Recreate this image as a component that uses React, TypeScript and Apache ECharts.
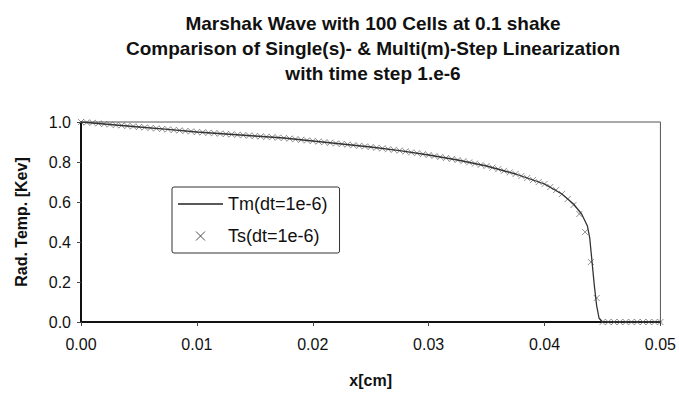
import React, { useEffect, useRef } from "react";
import * as echarts from "echarts";

const TITLE_LINES = [
  "Marshak Wave with 100 Cells at 0.1 shake",
  "Comparison of Single(s)- & Multi(m)-Step Linearization",
  "with time step 1.e-6",
];
const X_NAME = "x[cm]";
const Y_NAME = "Rad. Temp. [Kev]";
const TM_NAME = "Tm(dt=1e-6)";
const TS_NAME = "Ts(dt=1e-6)";

// Multi-step line: x [cm], T [keV]
const tmX = [0, 0.001, 0.002, 0.003, 0.005, 0.0075, 0.01, 0.0125, 0.015, 0.0175, 0.02, 0.0225, 0.025, 0.0275, 0.03, 0.0325, 0.035, 0.0375, 0.04, 0.0415, 0.0425, 0.0432, 0.0437, 0.0439, 0.0441, 0.0443, 0.0445, 0.0447, 0.045, 0.05];
const tmT = [1.0, 0.995, 0.99, 0.985, 0.975, 0.963, 0.95, 0.94, 0.93, 0.92, 0.905, 0.89, 0.875, 0.857, 0.835, 0.81, 0.78, 0.74, 0.69, 0.64, 0.59, 0.54, 0.48, 0.42, 0.3, 0.18, 0.08, 0.02, 0.0, 0.0];

// Single-step cell values, one per cell edge (cell width 0.0005 cm)
const CELL_DX = 0.0005;
const tsT = [
  1.0, 0.998, 0.996, 0.993, 0.99, 0.988, 0.985, 0.983, 0.98, 0.978,
  0.975, 0.973, 0.97, 0.968, 0.965, 0.963, 0.96, 0.958, 0.955, 0.953,
  0.95, 0.948, 0.946, 0.944, 0.942, 0.94, 0.938, 0.936, 0.934, 0.932,
  0.93, 0.928, 0.926, 0.924, 0.922, 0.92, 0.917, 0.914, 0.911, 0.908,
  0.905, 0.902, 0.899, 0.896, 0.893, 0.89, 0.887, 0.884, 0.881, 0.878,
  0.875, 0.871, 0.868, 0.864, 0.861, 0.857, 0.853, 0.848, 0.844, 0.839,
  0.835, 0.83, 0.825, 0.82, 0.815, 0.81, 0.804, 0.798, 0.792, 0.786,
  0.78, 0.772, 0.764, 0.756, 0.748, 0.74, 0.73, 0.72, 0.71, 0.7,
  0.69, 0.675, 0.66, 0.64, 0.615, 0.585, 0.54, 0.45, 0.3, 0.12,
  0.0, 0.0, 0.0, 0.0, 0.0, 0.0, 0.0, 0.0, 0.0, 0.0, 0.0,
];

const X_MIN = 0, X_MAX = 0.05, X_STEP = 0.01;
const Y_MIN = 0, Y_MAX = 1, Y_STEP = 0.2;

const FONT = "'Liberation Sans', Arial, sans-serif";
const CROSS = "path://M0,0L10,10M10,0L0,10";
const LINE_ICON = "path://M0,0L45,0L45,1.6L0,1.6Z";

export default function App() {
  const ref = useRef<HTMLDivElement>(null);
  useEffect(() => {
    if (!ref.current) return;
    const chart = echarts.init(ref.current, undefined, { renderer: "svg" });
    const tmData = tmX.map((x, i) => [x, tmT[i]]);
    const tsData = tsT.map((t, i) => [i * CELL_DX, t]);
    chart.setOption({
      animation: false,
      backgroundColor: "#fff",
      title: {
        text: TITLE_LINES.join("\n"),
        left: 368,
        top: 6,
        textAlign: "center",
        textStyle: {
          fontFamily: FONT,
          fontSize: 19,
          fontWeight: "bold",
          color: "#111",
          lineHeight: 25,
        },
      },
      grid: {
        left: 81,
        right: 18,
        top: 122,
        bottom: 77,
        show: true,
        borderColor: "#555",
        borderWidth: 1,
        backgroundColor: "transparent",
      },
      legend: {
        orient: "vertical",
        left: 172,
        top: 187,
        itemWidth: 45,
        itemHeight: 9,
        itemGap: 14,
        padding: [8, 12, 8, 6],
        borderColor: "#333",
        borderWidth: 1,
        borderRadius: 2,
        textStyle: { fontFamily: FONT, fontSize: 18, color: "#111" },
        data: [
          { name: TM_NAME, icon: LINE_ICON, itemStyle: { color: "#222" } },
          { name: TS_NAME, itemStyle: { color: "none", borderColor: "#222", borderWidth: 1 } },
        ],
      },
      xAxis: {
        type: "value",
        min: X_MIN,
        max: X_MAX,
        interval: X_STEP,
        name: X_NAME,
        nameLocation: "middle",
        nameGap: 50,
        nameTextStyle: { fontFamily: FONT, fontSize: 16, fontWeight: "bold", color: "#111" },
        axisLine: { show: true, lineStyle: { color: "#111", width: 2 } },
        axisTick: { show: true, length: 4, lineStyle: { color: "#444" } },
        axisLabel: {
          fontFamily: FONT,
          fontSize: 16,
          color: "#111",
          margin: 14,
          formatter: (v: number) => v.toFixed(2),
        },
        splitLine: { show: false },
      },
      yAxis: {
        type: "value",
        min: Y_MIN,
        max: Y_MAX,
        interval: Y_STEP,
        name: Y_NAME,
        nameLocation: "middle",
        nameGap: 52,
        nameTextStyle: { fontFamily: FONT, fontSize: 16, fontWeight: "bold", color: "#111" },
        axisLine: { show: true, lineStyle: { color: "#111", width: 2 } },
        axisTick: { show: true, length: 4, lineStyle: { color: "#444" } },
        axisLabel: {
          fontFamily: FONT,
          fontSize: 16,
          color: "#111",
          margin: 10,
          formatter: (v: number) => v.toFixed(1),
        },
        splitLine: { show: false },
      },
      series: [
        {
          name: TM_NAME,
          type: "line",
          data: tmData,
          symbol: "none",
          showSymbol: false,
          lineStyle: { color: "#333", width: 1.3 },
          itemStyle: { color: "#222" },
          z: 3,
        },
        {
          name: TS_NAME,
          type: "scatter",
          data: tsData,
          symbol: CROSS,
          symbolSize: 6,
          itemStyle: { color: "none", borderColor: "#666", borderWidth: 0.9 },
          z: 2,
        },
      ],
    });
    return () => chart.dispose();
  }, []);
  return (
    <div
      ref={ref}
      style={{ position: "absolute", left: 0, top: 0, width: 679, height: 399 }}
    />
  );
}
